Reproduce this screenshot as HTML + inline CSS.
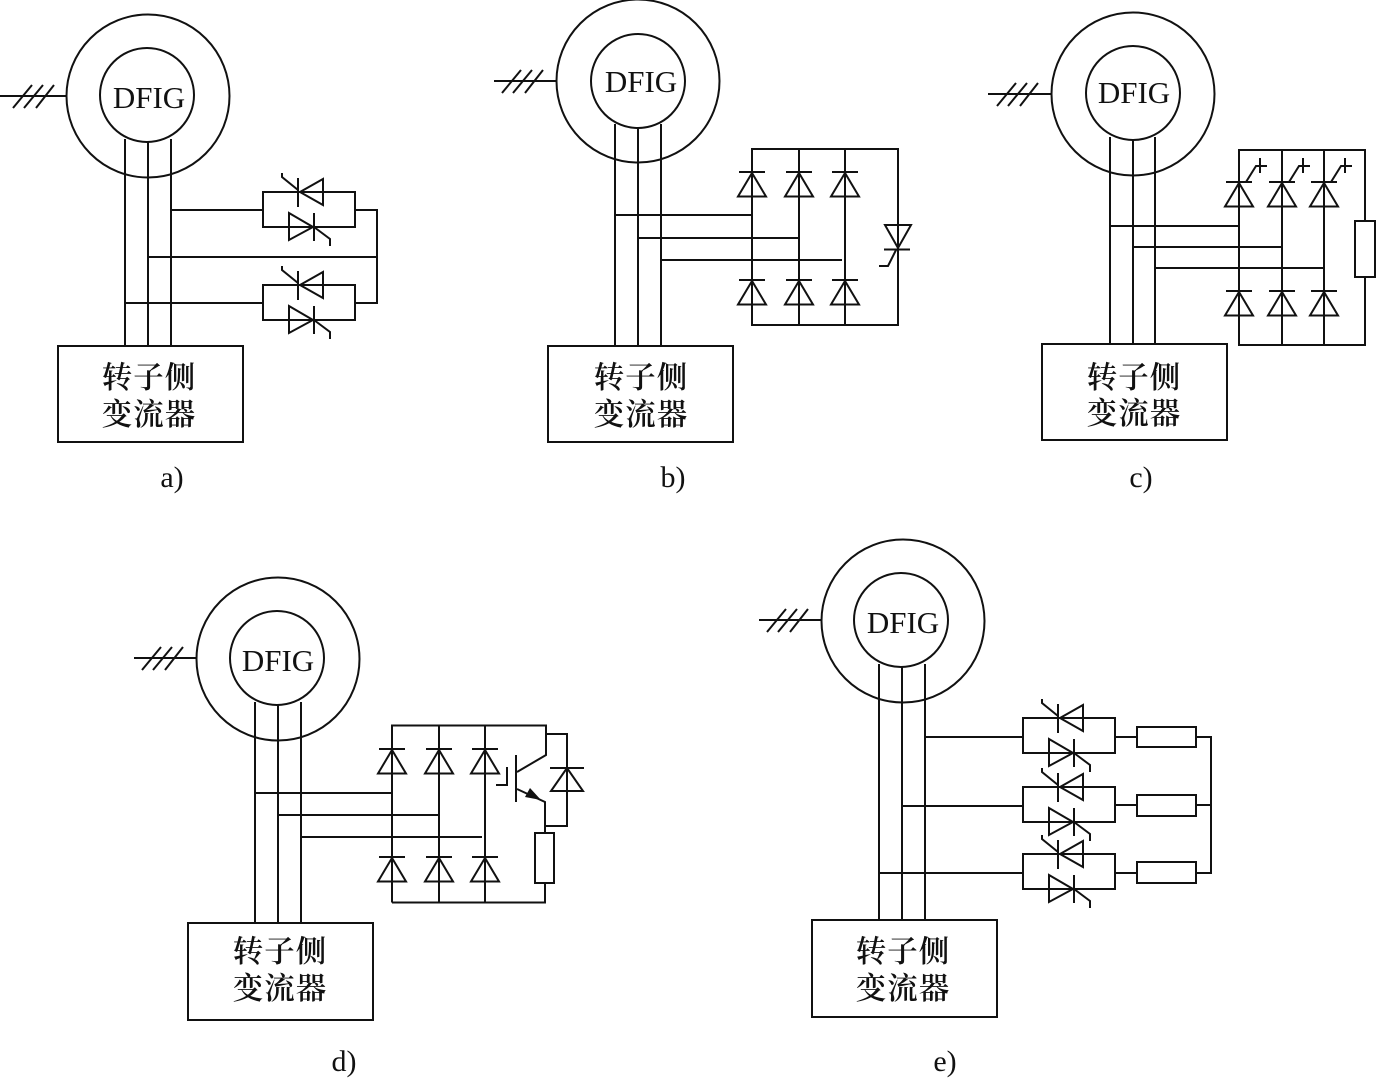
<!DOCTYPE html>
<html><head><meta charset="utf-8">
<style>
html,body{margin:0;padding:0;background:#fff}
svg{display:block}
.l{fill:none;stroke:#111;stroke-width:2;stroke-linejoin:miter}
text{fill:#111}
.d{font:31px "Liberation Serif",serif;text-anchor:middle}
.c{font:600 30.5px "Liberation Serif","Noto Serif CJK SC",serif;text-anchor:middle;letter-spacing:1px}
.t{font:30px "Liberation Serif",serif;text-anchor:middle}
</style></head><body>
<svg width="1376" height="1078" viewBox="0 0 1376 1078" xmlns="http://www.w3.org/2000/svg">
<defs>
<g id="hatch" class="l"><path d="M-54 12L-35 -11M-43 12L-24 -11M-31 12L-13 -11"/></g>
<g id="ud"><path class="l" d="M-13 0H13M0 1L-14 24.500H14Z"/></g>
<g id="anti" class="l">
<path d="M0 0H92V35H0Z"/>
<path d="M37 0L60 -13V13ZM35 -14V15M35 -2L19 -15V-19"/>
<path d="M26 21L50 35L26 48ZM51 21V49M51 35L67 47V54"/>
</g>
</defs>

<!-- a -->
<g class="l">
<circle cx="148" cy="96" r="81.500"/><circle cx="147" cy="95" r="47"/>
<path d="M0 96H67M125 139V346M148 142V346M171 139V346"/>
<rect x="58" y="346" width="185" height="96"/>
<path d="M171 210H263M355 210H377V303H355M148 257H377M125 303H263"/>
</g>
<use href="#hatch" x="67" y="96"/>
<use href="#anti" x="263" y="192"/><use href="#anti" x="263" y="285"/>
<text class="d" x="149" y="108">DFIG</text>
<text class="c" x="149" y="388">转子侧</text><text class="c" x="149" y="425">变流器</text>
<text class="t" x="172" y="487">a)</text>

<!-- b -->
<g class="l">
<circle cx="638" cy="81" r="81.500"/><circle cx="638" cy="81" r="47"/>
<path d="M494 81H556M615 124V346M638 128V346M661 124V346"/>
<rect x="548" y="346" width="185" height="96"/>
<rect x="752" y="149" width="146" height="176"/>
<path d="M799 149V325M845 149V325"/>
<path d="M615 215H752M638 238H798M661 260H842"/>
<path d="M885 225H911L898 248ZM884 249.500H910M896 250L888 266H879"/>
</g>
<use href="#hatch" x="556" y="81"/>
<use href="#ud" x="752" y="172"/><use href="#ud" x="799" y="172"/><use href="#ud" x="845" y="172"/>
<use href="#ud" x="752" y="280"/><use href="#ud" x="799" y="280"/><use href="#ud" x="845" y="280"/>
<text class="d" x="641" y="92">DFIG</text>
<text class="c" x="641" y="388">转子侧</text><text class="c" x="641" y="425">变流器</text>
<text class="t" x="673" y="487">b)</text>

<!-- c -->
<g class="l">
<circle cx="1133" cy="94" r="81.500"/><circle cx="1133" cy="93" r="47"/>
<path d="M988 94H1051M1110 137V344M1133 140V344M1155 137V344"/>
<rect x="1042" y="344" width="185" height="96"/>
<path d="M1365 221V150H1239V345H1365V277M1282 150V345M1324 150V345"/>
<rect x="1355" y="221" width="20" height="56"/>
<path d="M1110 226H1239M1133 247H1282M1155 268H1324"/>
<path d="M1246 182L1256 166H1267M1260 158V173"/>
<path d="M1289 182L1299 166H1310M1303 158V173"/>
<path d="M1331 182L1341 166H1352M1345 158V173"/>
</g>
<use href="#hatch" x="1051" y="94"/>
<use href="#ud" x="1239" y="182"/><use href="#ud" x="1282" y="182"/><use href="#ud" x="1324" y="182"/>
<use href="#ud" x="1239" y="291"/><use href="#ud" x="1282" y="291"/><use href="#ud" x="1324" y="291"/>
<text class="d" x="1134" y="103">DFIG</text>
<text class="c" x="1134" y="388">转子侧</text><text class="c" x="1134" y="424">变流器</text>
<text class="t" x="1141" y="487">c)</text>

<!-- d -->
<g class="l">
<circle cx="278" cy="659" r="81.500"/><circle cx="277" cy="658" r="47"/>
<path d="M134 658H196M255 702V923M278 705V923M301 702V923"/>
<rect x="188" y="923" width="185" height="97"/>
<path d="M392 902.500V725.500H546V755L517 772M516 755V802M507 767V785H496M517 789L545 802V833"/>
<rect x="535" y="833" width="19" height="50"/>
<path d="M545 883V902.500H392M439 725.500V902.500M485 725.500V902.500"/>
<path d="M546 734H567V826H546"/>
<path d="M550 768H584M567 768L551 791H583Z"/>
<path d="M255 793H392M278 815H438M301 837H482"/>
</g>
<path d="M541 800L525 797L530 788Z" fill="#111"/>
<use href="#hatch" x="196" y="658"/>
<use href="#ud" x="392" y="749"/><use href="#ud" x="439" y="749"/><use href="#ud" x="485" y="749"/>
<use href="#ud" x="392" y="857"/><use href="#ud" x="439" y="857"/><use href="#ud" x="485" y="857"/>
<text class="d" x="278" y="671">DFIG</text>
<text class="c" x="280" y="962">转子侧</text><text class="c" x="280" y="999">变流器</text>
<text class="t" x="344" y="1071">d)</text>

<!-- e -->
<g class="l">
<circle cx="903" cy="621" r="81.500"/><circle cx="901" cy="620" r="47"/>
<path d="M759 620H821M879 664V920M902 667V920M925 664V920"/>
<rect x="812" y="920" width="185" height="97"/>
<path d="M925 737H1023M902 806H1023M879 873H1023"/>
<path d="M1115 737H1137M1196 737H1211V873H1196M1115 805H1137M1196 805H1211M1115 873H1137"/>
<rect x="1137" y="727" width="59" height="20"/>
<rect x="1137" y="795" width="59" height="21"/>
<rect x="1137" y="862" width="59" height="21"/>
</g>
<use href="#hatch" x="821" y="620"/>
<use href="#anti" x="1023" y="718"/><use href="#anti" x="1023" y="787"/><use href="#anti" x="1023" y="854"/>
<text class="d" x="903" y="633">DFIG</text>
<text class="c" x="903" y="962">转子侧</text><text class="c" x="903" y="999">变流器</text>
<text class="t" x="945" y="1071">e)</text>
</svg>
</body></html>
